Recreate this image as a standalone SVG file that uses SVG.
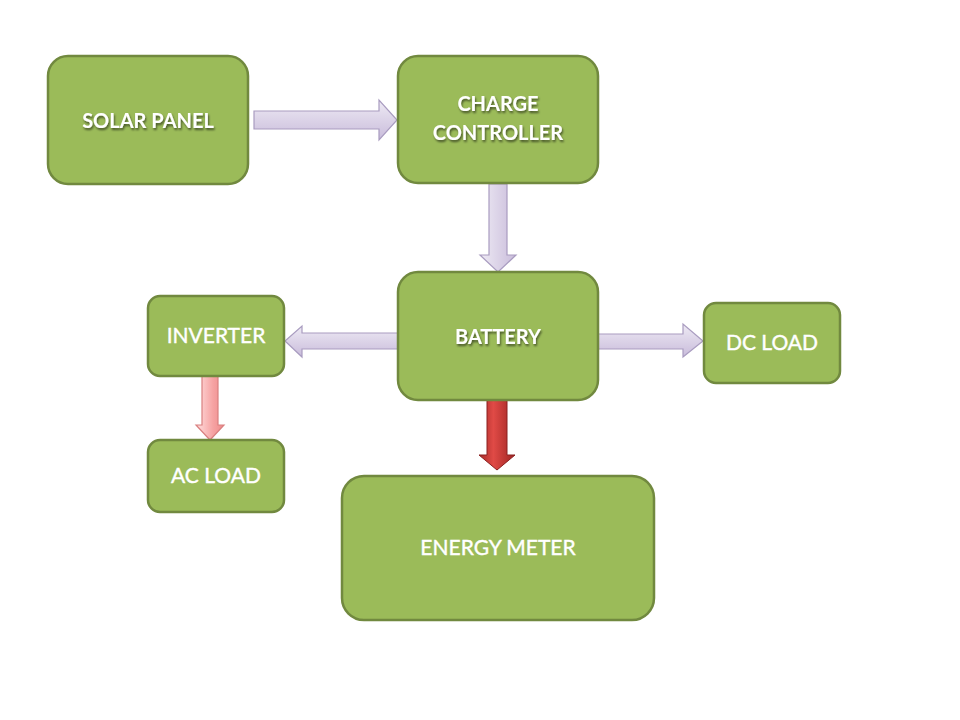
<svg xmlns="http://www.w3.org/2000/svg" width="960" height="720" viewBox="0 0 960 720">
<defs>
<linearGradient id="lavH" x1="0" y1="0" x2="0" y2="1">
<stop offset="0" stop-color="#EEEAF4"/><stop offset="1" stop-color="#C9BCDB"/>
</linearGradient>
<linearGradient id="lavV" x1="0" y1="0" x2="1" y2="0">
<stop offset="0" stop-color="#EEEAF4"/><stop offset="1" stop-color="#C9BCDB"/>
</linearGradient>
<linearGradient id="pinkV" x1="0" y1="0" x2="1" y2="0">
<stop offset="0" stop-color="#FFE0E0"/><stop offset="0.6" stop-color="#F6A3A3"/><stop offset="1" stop-color="#EE8A8A"/>
</linearGradient>
<linearGradient id="redV" x1="0" y1="0" x2="1" y2="0">
<stop offset="0" stop-color="#A52A28"/><stop offset="0.4" stop-color="#E04A46"/><stop offset="1" stop-color="#9E2422"/>
</linearGradient>
<filter id="sh" x="-10%" y="-30%" width="120%" height="160%">
<feGaussianBlur in="SourceAlpha" stdDeviation="1.2"/>
<feOffset dx="1" dy="1.5" result="b"/>
<feFlood flood-color="#000" flood-opacity="0.55"/>
<feComposite in2="b" operator="in"/>
<feMerge><feMergeNode/><feMergeNode in="SourceGraphic"/></feMerge>
</filter>
</defs>
<style>
.node{fill:#9BBB59;stroke:#71893F;stroke-width:2.5}
.t{font-family:Lato,"Open Sans","Liberation Sans",sans-serif;font-size:21px;fill:#FFFFFF;text-anchor:middle;stroke:#FFFFFF;stroke-width:0.4}
.tb{font-size:20px;font-weight:bold;stroke:none;filter:url(#sh)}
.lav{stroke:#A99CC0;stroke-width:1.2}
</style>
<rect width="960" height="720" fill="#FFFFFF"/>
<g id="connectors">
<path class="lav" fill="url(#lavH)" d="M254,111 H379 V100 L397,120 L379,140 V129 H254 Z"/>
<path class="lav" fill="url(#lavV)" d="M489,184 V255 H480 L498,272 L516,255 H507 V184 Z"/>
<path class="lav" fill="url(#lavH)" d="M398,333 H302 V326 L285,341 L302,357 V349 H398 Z"/>
<path class="lav" fill="url(#lavH)" d="M598,334 H683 V324 L703,341 L683,357 V349 H598 Z"/>
<path fill="url(#pinkV)" stroke="#D98080" stroke-width="1.2" d="M202,376 V425 H196 L210,440 L224,425 H218 V376 Z"/>
<path fill="url(#redV)" stroke="#8A2020" stroke-width="1" d="M487,400 V455 H479 L497,470 L515,455 H507 V400 Z"/>
</g>
<g id="solar-panel">
<rect class="node" x="48" y="56" width="200" height="128" rx="20"/>
<text class="t tb" x="148" y="128">SOLAR PANEL</text>
</g>
<g id="charge-controller">
<rect class="node" x="398" y="56" width="200" height="127" rx="20"/>
<text class="t tb" x="498" y="111">CHARGE</text>
<text class="t tb" x="498" y="140">CONTROLLER</text>
</g>
<g id="battery">
<rect class="node" x="398" y="272" width="200" height="128" rx="20"/>
<text class="t tb" x="498" y="344">BATTERY</text>
</g>
<g id="inverter">
<rect class="node" x="148" y="296" width="136" height="80" rx="12"/>
<text class="t" x="216" y="343">INVERTER</text>
</g>
<g id="dc-load">
<rect class="node" x="704" y="303" width="136" height="80" rx="12"/>
<text class="t" x="772" y="350">DC LOAD</text>
</g>
<g id="ac-load">
<rect class="node" x="148" y="440" width="136" height="72" rx="12"/>
<text class="t" x="216" y="483">AC LOAD</text>
</g>
<g id="energy-meter">
<rect class="node" x="342" y="476" width="312" height="144" rx="22"/>
<text class="t" x="498" y="555">ENERGY METER</text>
</g>
</svg>
